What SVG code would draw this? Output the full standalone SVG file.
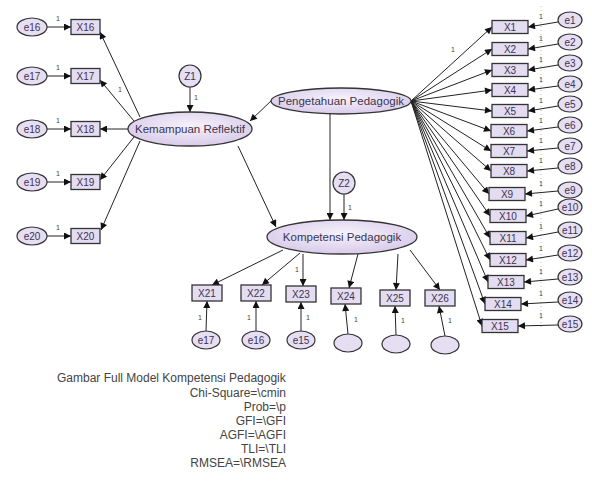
<svg xmlns="http://www.w3.org/2000/svg" width="592" height="500" viewBox="0 0 592 500">
<defs>
<marker id="ah" viewBox="0 0 10 10" refX="10" refY="5" markerWidth="10" markerHeight="7" orient="auto" markerUnits="userSpaceOnUse"><path d="M0,0 L10,5 L0,10 z" fill="#111"/></marker>
<radialGradient id="lat" cx="50%" cy="40%" r="60%"><stop offset="0" stop-color="#f6f2fb"/><stop offset="1" stop-color="#d8cbea"/></radialGradient>
</defs>
<style>
.bx{fill:#e4dcf0;stroke:#333;stroke-width:1.3}
.er{fill:#e6def2;stroke:#333;stroke-width:1.2}
.lt{fill:url(#lat);stroke:#333;stroke-width:1.3}
.c line{stroke:#222;stroke-width:1;marker-end:url(#ah)}
text{font-family:"Liberation Sans",Arial,sans-serif;fill:#3c3450}
.t{font-size:10px;text-anchor:middle;dominant-baseline:central}
.tl{font-size:11.5px;text-anchor:middle;dominant-baseline:central}
.one{font-size:7px;fill:#444;text-anchor:middle}
.cap{font-size:12px;fill:#444}
</style>
<rect width="592" height="500" fill="#fff"/>
<line x1="541" y1="6" x2="541" y2="330" stroke="#aaa" stroke-width="0.8" stroke-dasharray="1 3"/>
<g class="c" id="connectors">
<line x1="47" y1="27" x2="71" y2="27"/>
<line x1="47" y1="76" x2="71" y2="76"/>
<line x1="47" y1="129" x2="71" y2="129"/>
<line x1="47" y1="182" x2="71" y2="182"/>
<line x1="47" y1="236" x2="71" y2="236"/>
<line x1="140" y1="117" x2="100" y2="32"/>
<line x1="134" y1="121" x2="100" y2="80"/>
<line x1="128" y1="129" x2="100" y2="129"/>
<line x1="134" y1="137" x2="100" y2="180"/>
<line x1="140" y1="141" x2="101" y2="230"/>
<line x1="190" y1="87" x2="190" y2="112"/>
<line x1="272" y1="100" x2="250" y2="121"/>
<line x1="330" y1="114" x2="330" y2="220"/>
<line x1="344" y1="194" x2="344" y2="220"/>
<line x1="238" y1="146" x2="276" y2="227"/>
<line x1="283" y1="250" x2="212" y2="285"/>
<line x1="300" y1="253" x2="262" y2="285"/>
<line x1="303" y1="254" x2="303" y2="286"/>
<line x1="358" y1="254" x2="349" y2="288"/>
<line x1="398" y1="254" x2="396" y2="290"/>
<line x1="410" y1="250" x2="440" y2="290"/>
<line x1="206" y1="331" x2="207" y2="301"/>
<line x1="256" y1="331" x2="256" y2="301"/>
<line x1="301" y1="331" x2="301" y2="302"/>
<line x1="348" y1="334" x2="345" y2="304"/>
<line x1="396" y1="335" x2="395" y2="306"/>
<line x1="445" y1="336" x2="439" y2="306"/>
<line x1="411" y1="101" x2="492" y2="27"/>
<line x1="411" y1="101" x2="492" y2="49"/>
<line x1="411" y1="101" x2="492" y2="70"/>
<line x1="411" y1="101" x2="492" y2="90"/>
<line x1="411" y1="101" x2="492" y2="111"/>
<line x1="411" y1="101" x2="491" y2="131"/>
<line x1="411" y1="101" x2="491" y2="151"/>
<line x1="411" y1="101" x2="491" y2="171"/>
<line x1="411" y1="101" x2="489" y2="194"/>
<line x1="411" y1="101" x2="490" y2="216"/>
<line x1="411" y1="101" x2="490" y2="238"/>
<line x1="411" y1="101" x2="490" y2="260"/>
<line x1="411" y1="101" x2="488" y2="282"/>
<line x1="411" y1="101" x2="485" y2="304"/>
<line x1="411" y1="101" x2="482" y2="326"/>
<line x1="558" y1="22" x2="528" y2="27"/>
<line x1="558" y1="44" x2="528" y2="49"/>
<line x1="558" y1="65" x2="528" y2="70"/>
<line x1="558" y1="86" x2="528" y2="90"/>
<line x1="558" y1="106" x2="528" y2="111"/>
<line x1="558" y1="127" x2="527" y2="131"/>
<line x1="558" y1="148" x2="527" y2="151"/>
<line x1="558" y1="168" x2="527" y2="171"/>
<line x1="558" y1="191" x2="525" y2="194"/>
<line x1="558" y1="209" x2="526" y2="216"/>
<line x1="558" y1="232" x2="526" y2="238"/>
<line x1="558" y1="255" x2="526" y2="260"/>
<line x1="558" y1="279" x2="524" y2="282"/>
<line x1="558" y1="302" x2="521" y2="304"/>
<line x1="558" y1="325" x2="518" y2="326"/>
</g>
<g id="ones">
<text class="one" x="58" y="21">1</text><text class="one" x="58" y="70">1</text><text class="one" x="58" y="123">1</text><text class="one" x="58" y="176">1</text><text class="one" x="58" y="230">1</text>
<text class="one" x="120" y="92">1</text>
<text class="one" x="196" y="100">1</text>
<text class="one" x="350" y="210">1</text>
<text class="one" x="297" y="272">1</text>
<text class="one" x="453" y="52">1</text>
<text class="one" x="200" y="320">1</text><text class="one" x="249" y="320">1</text><text class="one" x="308" y="320">1</text><text class="one" x="356" y="322">1</text><text class="one" x="403" y="323">1</text><text class="one" x="450" y="323">1</text>
<text class="one" x="541" y="19">1</text><text class="one" x="541" y="41">1</text><text class="one" x="541" y="62">1</text><text class="one" x="541" y="82">1</text><text class="one" x="541" y="103">1</text><text class="one" x="541" y="123">1</text><text class="one" x="541" y="143">1</text><text class="one" x="541" y="163">1</text><text class="one" x="541" y="186">1</text><text class="one" x="541" y="206">1</text><text class="one" x="541" y="229">1</text><text class="one" x="541" y="251">1</text><text class="one" x="541" y="274">1</text><text class="one" x="541" y="296">1</text><text class="one" x="541" y="318">1</text>
</g>
<g id="kemampuan"><ellipse class="lt" cx="190" cy="129" rx="62" ry="17"/><text class="tl" x="190" y="129">Kemampuan Reflektif</text></g>
<g id="pengetahuan"><ellipse class="lt" cx="341" cy="101" rx="70" ry="13"/><text class="tl" x="341" y="101">Pengetahuan Pedagogik</text></g>
<g id="kompetensi"><ellipse class="lt" cx="342" cy="237" rx="75" ry="17"/><text class="tl" x="342" y="237">Kompetensi Pedagogik</text></g>
<g id="z1"><circle class="er" cx="190" cy="76" r="11"/><text class="t" x="190" y="76">Z1</text></g>
<g id="z2"><circle class="er" cx="344" cy="183" r="11"/><text class="t" x="344" y="183">Z2</text></g>
<g id="e16"><ellipse class="er" cx="32" cy="27" rx="15" ry="9"/><text class="t" x="32" y="27">e16</text></g>
<g id="e17"><ellipse class="er" cx="32" cy="76" rx="15" ry="9"/><text class="t" x="32" y="76">e17</text></g>
<g id="e18"><ellipse class="er" cx="32" cy="129" rx="15" ry="9"/><text class="t" x="32" y="129">e18</text></g>
<g id="e19"><ellipse class="er" cx="32" cy="182" rx="15" ry="9"/><text class="t" x="32" y="182">e19</text></g>
<g id="e20"><ellipse class="er" cx="32" cy="236" rx="15" ry="9"/><text class="t" x="32" y="236">e20</text></g>
<g id="x16"><rect class="bx" x="71" y="19.5" width="29" height="15"/><text class="t" x="85.5" y="27">X16</text></g>
<g id="x17"><rect class="bx" x="71" y="68.5" width="29" height="15"/><text class="t" x="85.5" y="76">X17</text></g>
<g id="x18"><rect class="bx" x="71" y="121.5" width="29" height="15"/><text class="t" x="85.5" y="129">X18</text></g>
<g id="x19"><rect class="bx" x="71" y="174.5" width="29" height="15"/><text class="t" x="85.5" y="182">X19</text></g>
<g id="x20"><rect class="bx" x="71" y="228.5" width="29" height="15"/><text class="t" x="85.5" y="236">X20</text></g>
<g id="x21"><rect class="bx" x="192" y="285" width="30" height="16"/><text class="t" x="207" y="293">X21</text></g>
<g id="x22"><rect class="bx" x="241" y="285" width="30" height="16"/><text class="t" x="256" y="293">X22</text></g>
<g id="x23"><rect class="bx" x="286" y="286" width="30" height="16"/><text class="t" x="301" y="294">X23</text></g>
<g id="x24"><rect class="bx" x="331" y="288" width="30" height="16"/><text class="t" x="346" y="296">X24</text></g>
<g id="x25"><rect class="bx" x="380" y="290" width="30" height="16"/><text class="t" x="395" y="298">X25</text></g>
<g id="x26"><rect class="bx" x="425" y="290" width="30" height="16"/><text class="t" x="440" y="298">X26</text></g>
<g id="e17b"><ellipse class="er" cx="206" cy="340" rx="14" ry="9"/><text class="t" x="206" y="340">e17</text></g>
<g id="e16b"><ellipse class="er" cx="256" cy="340" rx="14" ry="9"/><text class="t" x="256" y="340">e16</text></g>
<g id="e15b"><ellipse class="er" cx="301" cy="340" rx="14" ry="9"/><text class="t" x="301" y="340">e15</text></g>
<g id="u24"><ellipse class="er" cx="348" cy="343" rx="14" ry="9"/></g>
<g id="u25"><ellipse class="er" cx="396" cy="344" rx="14" ry="9"/></g>
<g id="u26"><ellipse class="er" cx="445" cy="345" rx="14" ry="9"/></g>
<g id="x1"><rect class="bx" x="492" y="20.5" width="36" height="13"/><text class="t" x="510" y="27">X1</text></g>
<g id="x2"><rect class="bx" x="492" y="42.5" width="36" height="13"/><text class="t" x="510" y="49">X2</text></g>
<g id="x3"><rect class="bx" x="492" y="63.5" width="36" height="13"/><text class="t" x="510" y="70">X3</text></g>
<g id="x4"><rect class="bx" x="492" y="83.5" width="36" height="13"/><text class="t" x="510" y="90">X4</text></g>
<g id="x5"><rect class="bx" x="492" y="104.5" width="36" height="13"/><text class="t" x="510" y="111">X5</text></g>
<g id="x6"><rect class="bx" x="491" y="124.5" width="36" height="13"/><text class="t" x="509" y="131">X6</text></g>
<g id="x7"><rect class="bx" x="491" y="144.5" width="36" height="13"/><text class="t" x="509" y="151">X7</text></g>
<g id="x8"><rect class="bx" x="491" y="164.5" width="36" height="13"/><text class="t" x="509" y="171">X8</text></g>
<g id="x9"><rect class="bx" x="489" y="187.5" width="36" height="13"/><text class="t" x="507" y="194">X9</text></g>
<g id="x10"><rect class="bx" x="490" y="209.5" width="36" height="13"/><text class="t" x="508" y="216">X10</text></g>
<g id="x11"><rect class="bx" x="490" y="231.5" width="36" height="13"/><text class="t" x="508" y="238">X11</text></g>
<g id="x12"><rect class="bx" x="490" y="253.5" width="36" height="13"/><text class="t" x="508" y="260">X12</text></g>
<g id="x13"><rect class="bx" x="488" y="275.5" width="36" height="13"/><text class="t" x="506" y="282">X13</text></g>
<g id="x14"><rect class="bx" x="485" y="297.5" width="36" height="13"/><text class="t" x="503" y="304">X14</text></g>
<g id="x15"><rect class="bx" x="482" y="319.5" width="36" height="13"/><text class="t" x="500" y="326">X15</text></g>
<g id="e1"><ellipse class="er" cx="570" cy="20" rx="12" ry="8"/><text class="t" x="570" y="20">e1</text></g>
<g id="e2"><ellipse class="er" cx="570" cy="42" rx="12" ry="8"/><text class="t" x="570" y="42">e2</text></g>
<g id="e3"><ellipse class="er" cx="570" cy="63" rx="12" ry="8"/><text class="t" x="570" y="63">e3</text></g>
<g id="e4"><ellipse class="er" cx="570" cy="84" rx="12" ry="8"/><text class="t" x="570" y="84">e4</text></g>
<g id="e5"><ellipse class="er" cx="570" cy="104" rx="12" ry="8"/><text class="t" x="570" y="104">e5</text></g>
<g id="e6"><ellipse class="er" cx="570" cy="125" rx="12" ry="8"/><text class="t" x="570" y="125">e6</text></g>
<g id="e7"><ellipse class="er" cx="570" cy="146" rx="12" ry="8"/><text class="t" x="570" y="146">e7</text></g>
<g id="e8"><ellipse class="er" cx="570" cy="166" rx="12" ry="8"/><text class="t" x="570" y="166">e8</text></g>
<g id="e9"><ellipse class="er" cx="570" cy="190" rx="12" ry="8"/><text class="t" x="570" y="190">e9</text></g>
<g id="e10"><ellipse class="er" cx="570" cy="207" rx="12" ry="8"/><text class="t" x="570" y="207">e10</text></g>
<g id="e11"><ellipse class="er" cx="570" cy="230" rx="12" ry="8"/><text class="t" x="570" y="230">e11</text></g>
<g id="e12"><ellipse class="er" cx="570" cy="253" rx="12" ry="8"/><text class="t" x="570" y="253">e12</text></g>
<g id="e13"><ellipse class="er" cx="570" cy="277" rx="12" ry="8"/><text class="t" x="570" y="277">e13</text></g>
<g id="e14"><ellipse class="er" cx="570" cy="300" rx="12" ry="8"/><text class="t" x="570" y="300">e14</text></g>
<g id="e15"><ellipse class="er" cx="570" cy="324" rx="12" ry="8"/><text class="t" x="570" y="324">e15</text></g>
<g id="caption">
<text class="cap" x="57" y="382">Gambar Full Model Kompetensi Pedagogik</text>
<text class="cap" x="286" y="397" text-anchor="end">Chi-Square=\cmin</text>
<text class="cap" x="286" y="411" text-anchor="end">Prob=\p</text>
<text class="cap" x="286" y="425" text-anchor="end">GFI=\GFI</text>
<text class="cap" x="286" y="439" text-anchor="end">AGFI=\AGFI</text>
<text class="cap" x="286" y="453" text-anchor="end">TLI=\TLI</text>
<text class="cap" x="286" y="467" text-anchor="end">RMSEA=\RMSEA</text>
</g>
</svg>
